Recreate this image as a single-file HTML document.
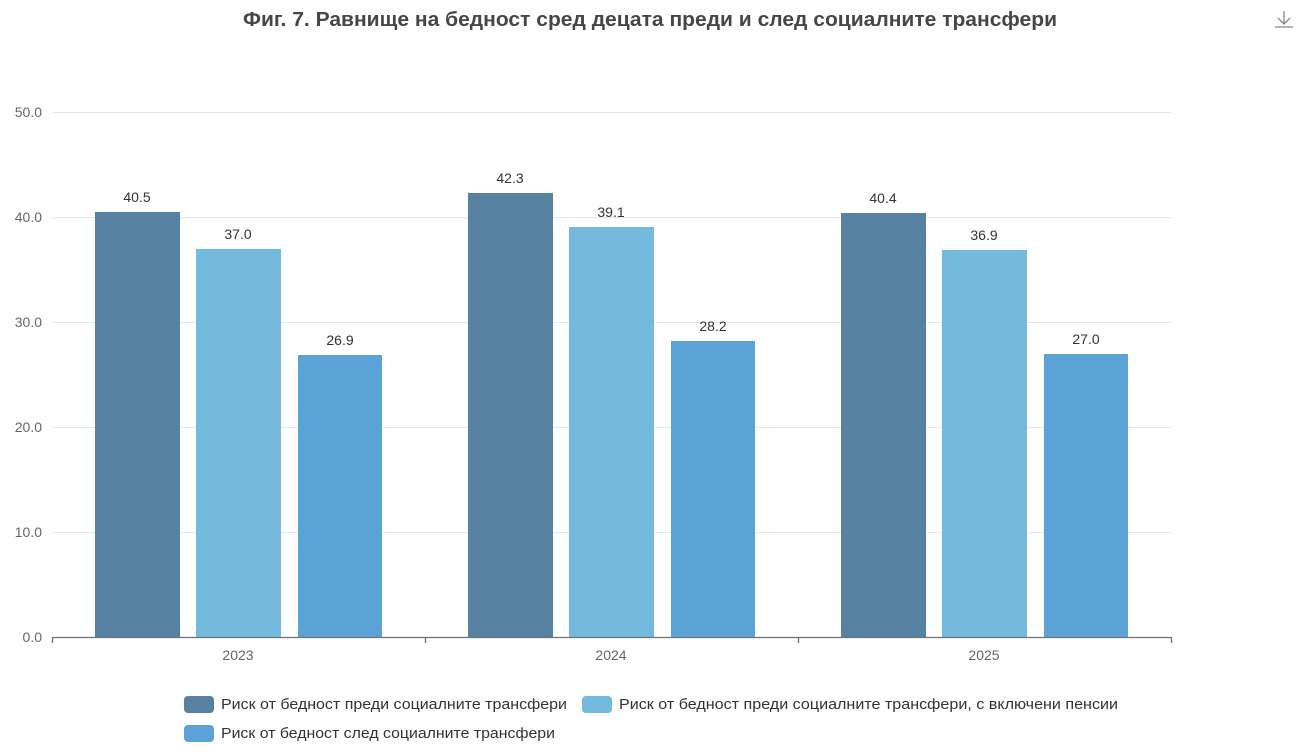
<!DOCTYPE html>
<html><head><meta charset="utf-8"><style>
body{margin:0;background:#fff;width:1301px;height:750px;overflow:hidden;font-family:"Liberation Sans","DejaVu Sans",sans-serif}
</style></head><body>
<svg width="1301" height="750" xmlns="http://www.w3.org/2000/svg" font-family="Liberation Sans, DejaVu Sans, sans-serif">
<text x="243" y="26" font-size="20" font-weight="bold" fill="#464646" textLength="814" lengthAdjust="spacingAndGlyphs">Фиг. 7. Равнище на бедност сред децата преди и след социалните трансфери</text>
<g stroke="#888" stroke-width="1.3" fill="none"><path d="M1284 11v12M1278 18l6 6 6-6M1275 27h18"/></g>
<g stroke="#e6e6ec" stroke-width="1">
<line x1="52" x2="1171" y1="112.5" y2="112.5"/><line x1="52" x2="1171" y1="217.5" y2="217.5"/>
<line x1="52" x2="1171" y1="322.5" y2="322.5"/><line x1="52" x2="1171" y1="427.5" y2="427.5"/>
<line x1="52" x2="1171" y1="532.5" y2="532.5"/></g>
<g font-size="14" fill="#666" text-anchor="end">
<text x="42" y="117">50.0</text><text x="42" y="222">40.0</text><text x="42" y="327">30.0</text>
<text x="42" y="432">20.0</text><text x="42" y="537">10.0</text><text x="42" y="642">0.0</text></g>
<g>
<rect x="95" y="212" width="85" height="425" fill="#5681a0"/>
<rect x="196" y="249" width="85" height="388" fill="#73bade"/>
<rect x="298" y="355" width="84" height="282" fill="#5ba3d7"/>
<rect x="468" y="193" width="85" height="444" fill="#5681a0"/>
<rect x="569" y="227" width="85" height="410" fill="#73bade"/>
<rect x="671" y="341" width="84" height="296" fill="#5ba3d7"/>
<rect x="841" y="213" width="85" height="424" fill="#5681a0"/>
<rect x="942" y="250" width="85" height="387" fill="#73bade"/>
<rect x="1044" y="354" width="84" height="283" fill="#5ba3d7"/>
</g>
<g font-size="14" fill="#333" text-anchor="middle">
<text x="137" y="202">40.5</text><text x="238" y="239">37.0</text><text x="340" y="345">26.9</text>
<text x="510" y="183">42.3</text><text x="611" y="217">39.1</text><text x="713" y="331">28.2</text>
<text x="883" y="203">40.4</text><text x="984" y="240">36.9</text><text x="1086" y="344">27.0</text></g>
<g stroke="#6e7079" stroke-width="1.3"><line x1="52" x2="1171" y1="637.5" y2="637.5"/>
<line x1="52.5" x2="52.5" y1="637" y2="643"/><line x1="425.5" x2="425.5" y1="637" y2="643"/>
<line x1="798.5" x2="798.5" y1="637" y2="643"/><line x1="1171.5" x2="1171.5" y1="637" y2="643"/></g>
<g font-size="14" fill="#666" text-anchor="middle">
<text x="238" y="660">2023</text><text x="611" y="660">2024</text><text x="984" y="660">2025</text></g>
<g font-size="15" fill="#333">
<rect x="184" y="696" width="30" height="17" rx="4" fill="#5681a0"/><text x="221" y="709" textLength="346" lengthAdjust="spacingAndGlyphs">Риск от бедност преди социалните трансфери</text>
<rect x="582" y="696" width="30" height="17" rx="4" fill="#73bade"/><text x="619" y="709" textLength="499" lengthAdjust="spacingAndGlyphs">Риск от бедност преди социалните трансфери, с включени пенсии</text>
<rect x="184" y="725" width="30" height="17" rx="4" fill="#5ba3d7"/><text x="221" y="738" textLength="334" lengthAdjust="spacingAndGlyphs">Риск от бедност след социалните трансфери</text>
</g>
</svg>
</body></html>
